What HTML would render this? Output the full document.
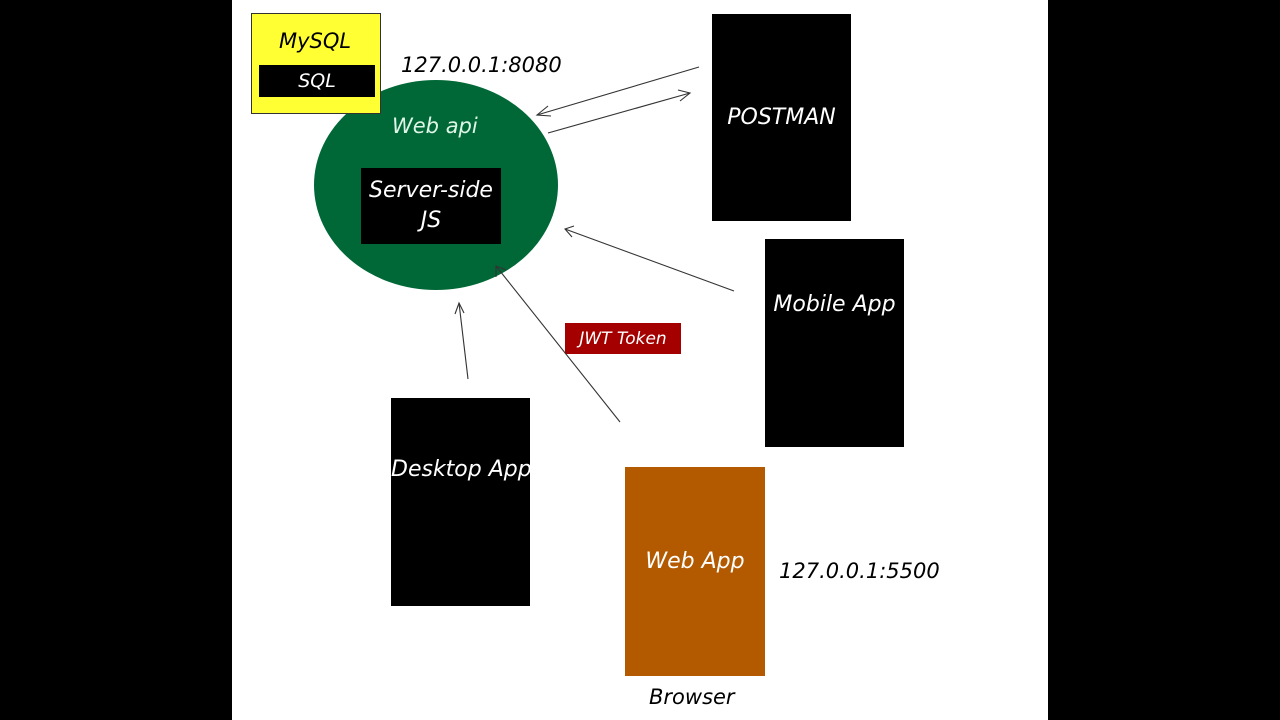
<!DOCTYPE html>
<html><head><style>
body{margin:0;width:1280px;height:720px;background:#000;position:relative;overflow:hidden;font-family:"DejaVu Sans","Liberation Sans",sans-serif;font-style:italic}
.w{position:absolute;left:232px;top:0;width:816px;height:720px;background:#fff}
.b{position:absolute;background:#000;color:#fff;display:flex;align-items:center;justify-content:center;text-align:center;font-size:22px}
.t{position:absolute;font-size:21px;color:#000}
.c{position:absolute;color:#fff;font-size:22px;text-align:center;white-space:nowrap}
</style></head><body>
<div class="w"></div>
<div style="position:absolute;left:314px;top:80px;width:244px;height:210px;border-radius:50%;background:#006837"></div>
<div class="t" style="left:392px;top:114px;color:#dff5e8">Web api</div>
<div class="b" style="left:361px;top:168px;width:140px;height:76px;line-height:30px">Server-side<br>JS</div>
<div style="position:absolute;left:251px;top:13px;width:128px;height:99px;background:#ffff33;border:1px solid #333"></div>
<div class="t" style="left:279px;top:29px">MySQL</div>
<div class="b" style="left:259px;top:65px;width:116px;height:32px;font-size:19px">SQL</div>
<div class="t" style="left:401px;top:53px">127.0.0.1:8080</div>
<div class="b" style="left:712px;top:14px;width:139px;height:207px">POSTMAN</div>
<div class="b" style="left:765px;top:239px;width:139px;height:208px"></div>
<div class="c" style="left:765px;top:292px;width:139px">Mobile App</div>
<div class="b" style="left:391px;top:398px;width:139px;height:208px;overflow:hidden"><div class="c" style="left:0;top:59px;width:139px">Desktop App</div></div>
<div class="b" style="left:625px;top:467px;width:140px;height:209px;background:#b35900"></div>
<div class="c" style="left:625px;top:549px;width:140px">Web App</div>
<div class="t" style="left:779px;top:559px">127.0.0.1:5500</div>
<div class="t" style="left:649px;top:685px">Browser</div>
<div class="b" style="left:565px;top:323px;width:116px;height:31px;background:#a50000;font-size:17px">JWT Token</div>
<svg width="1280" height="720" style="position:absolute;left:0;top:0" fill="none" stroke="#333" stroke-width="1.1">
<line x1="699" y1="67" x2="537" y2="115"/><polyline points="548,106 537,115 551,116"/>
<line x1="548" y1="133" x2="690" y2="93"/><polyline points="678,90 690,93 680,101"/>
<line x1="734" y1="291" x2="565" y2="229"/><polyline points="574,226 565,229 572,237"/>
<line x1="620" y1="422" x2="496" y2="266"/><polyline points="496,277 496,266 506,270"/>
<line x1="468" y1="379" x2="459" y2="303"/><polyline points="455,314 459,303 464,313"/>
</svg>
</body></html>
